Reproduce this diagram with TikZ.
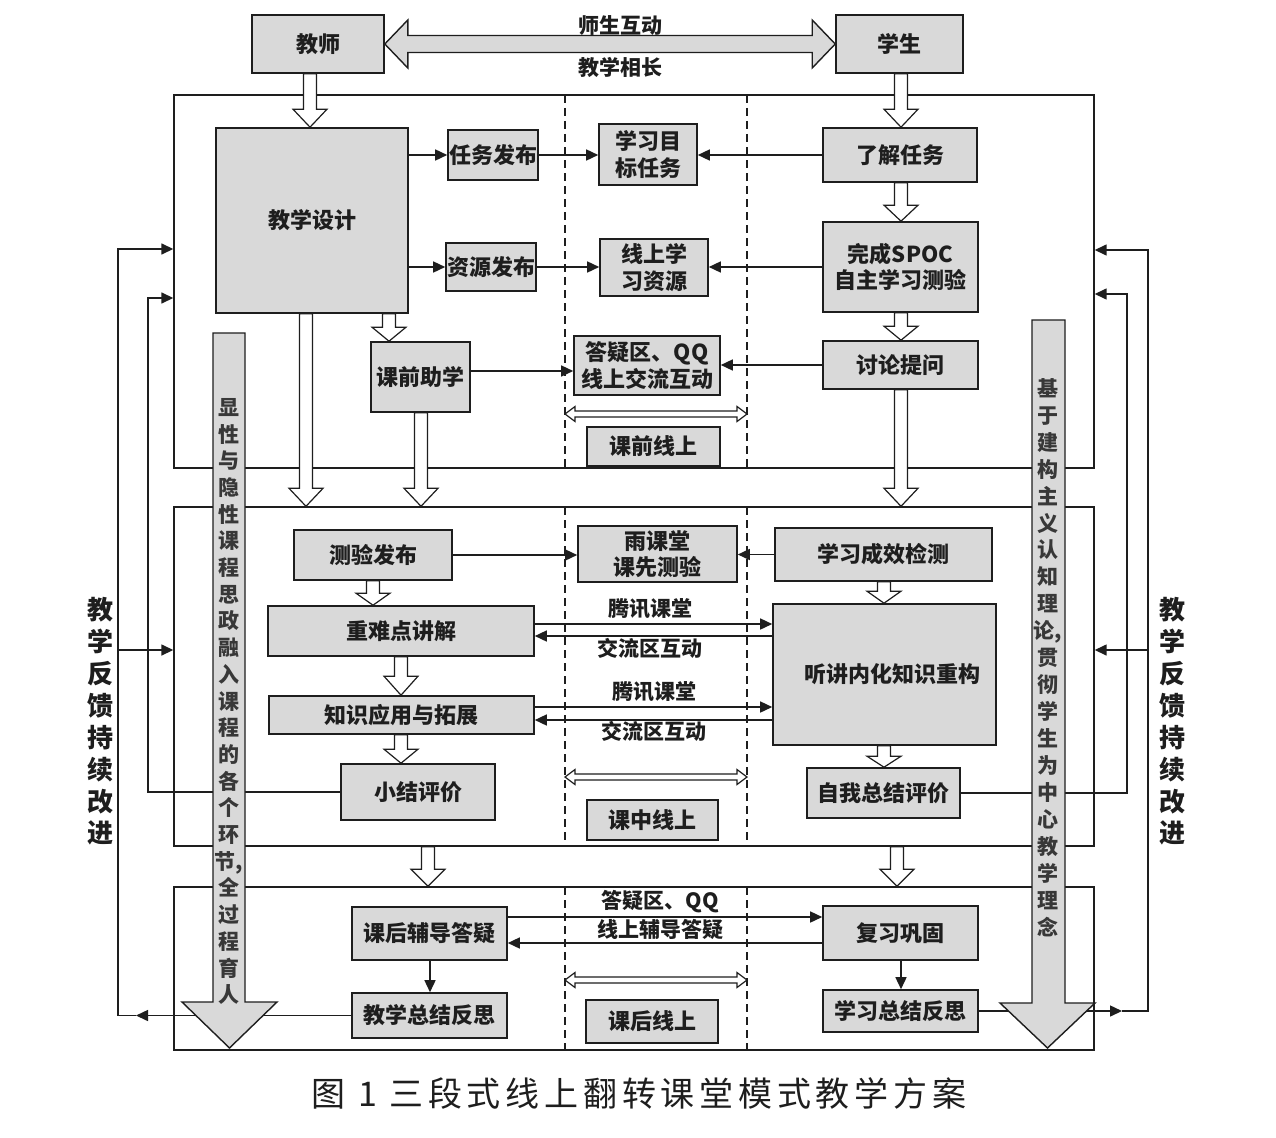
\documentclass[tikz,border=0pt]{standalone}
\usepackage{fontspec}
\newfontfamily\cjk{Noto Sans CJK SC}
\newfontfamily\cjkcap{Noto Sans CJK SC}[LetterSpace=14]
\usetikzlibrary{arrows.meta,calc}
\definecolor{boxgray}{HTML}{D9D9D9}
\definecolor{ink}{HTML}{1E1E1E}
\definecolor{bantext}{HTML}{383838}
\tikzset{
  box/.style={draw=ink, fill=boxgray, line width=1.6pt, inner sep=0pt, align=center, text=ink,
    font=\cjk\bfseries\fontsize{22}{26.5}\selectfont},
  panel/.style={draw=ink, line width=1.4pt, inner sep=0pt},
  lbl/.style={text=ink, inner sep=0pt, font=\cjk\bfseries\fontsize{21}{25}\selectfont},
  arr/.style={draw=ink, line width=1.5pt, -{Triangle[length=12pt,width=11pt]}},
  ln/.style={draw=ink, line width=1.5pt},
  harrow/.style={draw=ink, fill=white, line width=1.2pt, line join=miter},
  gblock/.style={draw=ink, fill=boxgray, line width=1.4pt, line join=miter},
  sepline/.style={draw=ink, line width=1.2pt, dash pattern=on 8pt off 5pt},
  bantxt/.style={text=bantext, inner sep=0pt, align=center},
}
\newcommand\bx[6]{\node[box, minimum width=#4pt, minimum height=#5pt] (#1) at (#2,#3) {#6};}
% hollow vertical block arrow: [head length]{x}{from}{to}
\newcommand\varrow[4][18]{%
  \draw[harrow] let \p1=(#3), \p2=(#4) in
   (#2pt-6.5pt,\y1) -- (#2pt-6.5pt,\y2+#1pt) -- (#2pt-17pt,\y2+#1pt) -- (#2pt,\y2)
   -- (#2pt+17pt,\y2+#1pt) -- (#2pt+6.5pt,\y2+#1pt) -- (#2pt+6.5pt,\y1) -- cycle;}
% small hollow double arrow: {x1}{x2}{y}
\newcommand\hdarrow[3]{%
  \draw[harrow] (#1,#3) -- (#1+10,#3-7.5) -- (#1+10,#3-3) -- (#2-10,#3-3) -- (#2-10,#3-7.5)
   -- (#2,#3) -- (#2-10,#3+7.5) -- (#2-10,#3+3) -- (#1+10,#3+3) -- (#1+10,#3+7.5) -- cycle;}
\begin{document}
\begin{tikzpicture}[x=1pt,y=-1pt]
\fill[white] (0,0) rectangle (1276,1137);
\useasboundingbox (0,0) rectangle (1276,1137);

% panels
\node[panel, minimum width=920pt, minimum height=373pt] (p1) at (634,281.5) {};
\node[panel, minimum width=920pt, minimum height=339pt] (p2) at (634,676.5) {};
\node[panel, minimum width=920pt, minimum height=163pt] (p3) at (634,968.5) {};
\foreach \xx in {565,747}{
  \draw[sepline] (\xx,95) -- (\xx,468);
  \draw[sepline] (\xx,507) -- (\xx,846);
  \draw[sepline] (\xx,887) -- (\xx,1050);
}

% boxes (defined first for anchors)
\bx{js}{318}{44}{132}{58}{教师}
\bx{xs}{899.5}{44}{127}{58}{学生}
\bx{jxsj}{312}{220.5}{192}{185}{教学设计}
\bx{rwfb}{493}{155}{90}{50}{任务发布}
\bx{xxmb}{648}{154.5}{98}{61}{学习目\\标任务}
\bx{ljrw}{900}{155}{154}{54}{了解任务}
\bx{wcspoc}{900.5}{267}{155}{90}{完成SPOC\\自主学习测验}
\bx{zyfb}{491}{267}{90}{48}{资源发布}
\bx{xszy}{654}{267.5}{108}{57}{线上学\\习资源}
\bx{tltw}{900.5}{365}{155}{48}{讨论提问}
\bx{dyq}{647}{365.5}{146}{59}{答疑区、QQ\\线上交流互动}
\bx{kqzx}{420.5}{377}{99}{70}{课前助学}
\bx{kqxs}{653.5}{446.5}{133}{39}{课前线上}
\bx{cyfb}{373}{555}{158}{50}{测验发布}
\bx{ykt}{657.5}{554}{159}{56}{雨课堂\\课先测验}
\bx{xxcx}{883.5}{554.5}{217}{53}{学习成效检测}
\bx{zndj}{401}{631}{266}{50}{重难点讲解}
\bx{tjnh}{884.5}{674.5}{223}{141}{\hspace*{16pt}听讲内化知识重构}
\bx{zsyy}{401.5}{715}{265}{38}{知识应用与拓展}
\bx{xjpj}{418}{792}{154}{56}{小结评价}
\bx{zwzj}{883.5}{793}{153}{50}{自我总结评价}
\bx{kzxs}{652.5}{820}{131}{40}{课中线上}
\bx{khfd}{429.5}{933.5}{155}{53}{课后辅导答疑}
\bx{fxgg}{900.5}{933}{155}{54}{复习巩固}
\bx{jxzj}{429.5}{1015.5}{155}{45}{教学总结反思}
\bx{xxzj}{900.5}{1011}{155}{42}{学习总结反思}
\bx{khxs}{652}{1021.5}{132}{43}{课后线上}

% feedback loops (drawn under banners)
\coordinate (LO) at (118,249);
\coordinate (LI) at (148,298);
\coordinate (LOm) at (118,650);
\coordinate (LM) at (136,0);
\coordinate (RO) at (1148,250);
\coordinate (RI) at (1127,294);
\coordinate (ROm) at (1148,650);
\coordinate (RM) at (1122,0);
\draw[arr] (jxzj.west) -- (jxzj.west -| LM);
\draw[arr] (jxzj.west -| LM) -- (jxzj.west -| LO) -- (LO) -- (LO -| p1.west);
\draw[arr] (LOm) -- (LOm -| p2.west);
\draw[arr] (xjpj.west) -- (xjpj.west -| LI) -- (LI) -- (LI -| p1.west);
\draw[arr] (xxzj.east) -- (xxzj.east -| RM);
\draw[arr] (xxzj.east -| RM) -- (xxzj.east -| RO) -- (RO) -- (RO -| p1.east);
\draw[arr] (ROm) -- (ROm -| p2.east);
\draw[arr] (zwzj.east) -- (zwzj.east -| RI) -- (RI) -- (RI -| p1.east);

% top double arrow
\draw[gblock] let \p1=(js.east), \p2=(xs.west) in
  (\x1,\y1) -- (\x1+23pt,\y1+24pt) -- (\x1+23pt,\y1+8.5pt) -- (\x2-23pt,\y1+8.5pt) -- (\x2-23pt,\y1+24pt)
  -- (\x2,\y1) -- (\x2-23pt,\y1-24pt) -- (\x2-23pt,\y1-8.5pt) -- (\x1+23pt,\y1-8.5pt) -- (\x1+23pt,\y1-24pt) -- cycle;

% hollow block arrows
\varrow{310}{js.south}{jxsj.north}
\varrow{901}{xs.south}{ljrw.north}
\varrow[16]{901}{ljrw.south}{wcspoc.north}
\varrow[14]{901}{wcspoc.south}{tltw.north}
\varrow[14]{389}{jxsj.south}{kqzx.north}
\varrow{306}{jxsj.south}{p2.north}
\varrow{421}{kqzx.south}{p2.north}
\varrow{901}{tltw.south}{p2.north}
\varrow[12]{373}{cyfb.south}{zndj.north}
\varrow[12]{884}{xxcx.south}{tjnh.north}
\varrow[19]{401}{zndj.south}{zsyy.north}
\varrow[14]{401}{zsyy.south}{xjpj.north}
\varrow[11]{884}{tjnh.south}{zwzj.north}
\varrow[17]{428}{p2.south}{p3.north}
\varrow[17]{897}{p2.south}{p3.north}

% small double arrows between the dashed lines
\hdarrow{565}{747}{414}
\hdarrow{565}{747}{777}
\hdarrow{565}{747}{980}

% banners
\draw[gblock] (213,333) -- (245,333) -- (245,1002) -- (277,1002) -- (229.5,1048) -- (182,1002) -- (213,1002) -- cycle;
\draw[gblock] (1032,320) -- (1065,320) -- (1065,1003) -- (1095,1003) -- (1047.5,1048) -- (1000,1003) -- (1032,1003) -- cycle;
\node[bantxt, font=\cjk\bfseries\fontsize{21}{26.7}\selectfont] (bl) at (229,701.5)
  {显\\性\\与\\隐\\性\\课\\程\\思\\政\\融\\入\\课\\程\\的\\各\\个\\环\\节,\\全\\过\\程\\育\\人};
\node[bantxt, font=\cjk\bfseries\fontsize{21}{26.95}\selectfont] (br) at (1048,657.5)
  {基\\于\\建\\构\\主\\义\\认\\知\\理\\论,\\贯\\彻\\学\\生\\为\\中\\心\\教\\学\\理\\念};
\node[bantxt, text=ink, font=\cjk\bfseries\fontsize{26}{31.9}\selectfont] (fbl) at (100,721.5)
  {教\\学\\反\\馈\\持\\续\\改\\进};
\node[bantxt, text=ink, font=\cjk\bfseries\fontsize{26}{31.9}\selectfont] (fbr) at (1172,721.5)
  {教\\学\\反\\馈\\持\\续\\改\\进};

% redraw boxes on top of block arrows
\bx{js}{318}{44}{132}{58}{教师}
\bx{xs}{899.5}{44}{127}{58}{学生}

% thin arrows
\draw[arr] (rwfb.west -| jxsj.east) -- (rwfb.west);
\draw[arr] (rwfb.east) -- (rwfb.east -| xxmb.west);
\draw[arr] (ljrw.west) -- (ljrw.west -| xxmb.east);
\draw[arr] (zyfb.west -| jxsj.east) -- (zyfb.west);
\draw[arr] (zyfb.east) -- (zyfb.east -| xszy.west);
\draw[arr] (wcspoc.west) -- (wcspoc.west -| xszy.east);
\coordinate (g1) at ($(kqzx.east)+(0,-6)$);
\draw[arr] (g1) -- (g1 -| dyq.west);
\draw[arr] (tltw.west) -- (tltw.west -| dyq.east);
\draw[arr] (cyfb.east) -- (cyfb.east -| ykt.west);
\draw[arr] (xxcx.west) -- (xxcx.west -| ykt.east);
\coordinate (k1) at ($(zndj.east)+(0,-7)$);
\coordinate (k2) at ($(zndj.east)+(0,5)$);
\draw[arr] (k1) -- (k1 -| tjnh.west);
\draw[arr] (k2 -| tjnh.west) -- (k2);
\coordinate (m1) at ($(zsyy.east)+(0,-8)$);
\coordinate (m2) at ($(zsyy.east)+(0,5)$);
\draw[arr] (m1) -- (m1 -| tjnh.west);
\draw[arr] (m2 -| tjnh.west) -- (m2);
\coordinate (n1) at ($(khfd.east)+(0,-16.5)$);
\coordinate (n2) at ($(khfd.east)+(0,9.5)$);
\draw[arr] (n1) -- (n1 -| fxgg.west);
\draw[arr] (n2 -| fxgg.west) -- (n2);
\coordinate (o1) at (430,0);
\coordinate (o2) at (901,0);
\draw[arr] (o1 |- khfd.south) -- (o1 |- jxzj.north);
\draw[arr] (o2 |- fxgg.south) -- (o2 |- xxzj.north);

% labels
\node[lbl] (l1) at (620,26) {师生互动};
\node[lbl] (l2) at (620,67) {教学相长};
\node[lbl] (l3) at (650,609) {腾讯课堂};
\node[lbl] (l4) at (650,648) {交流区互动};
\node[lbl] (l5) at (654,692) {腾讯课堂};
\node[lbl] (l6) at (654,731) {交流区互动};
\node[lbl] (l7) at (660,902) {答疑区、QQ};
\node[lbl] (l8) at (660,929) {线上辅导答疑};

% caption
\node[inner sep=0pt, text=ink, font=\cjkcap\fontsize{34}{38}\selectfont] (cap) at (639,1093)
  {图 1 三段式线上翻转课堂模式教学方案};
\end{tikzpicture}
\end{document}
